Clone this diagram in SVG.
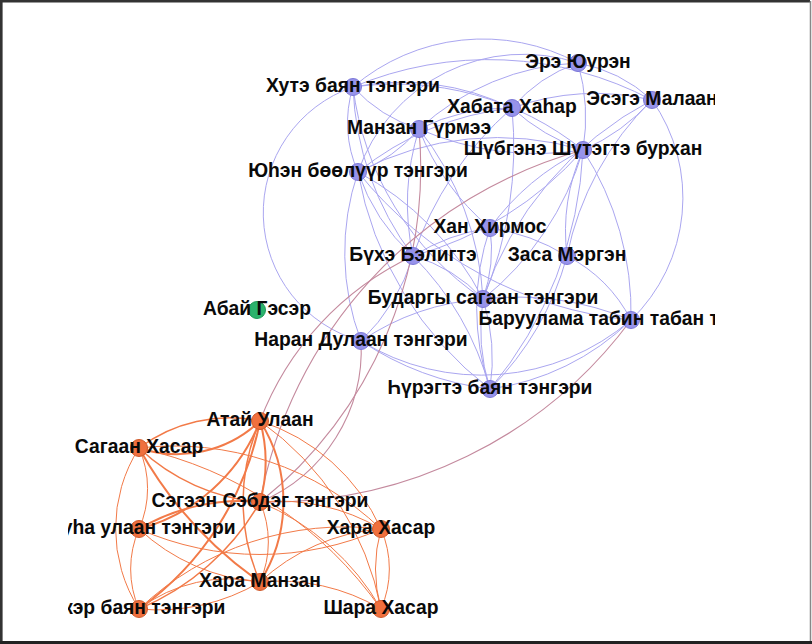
<svg xmlns="http://www.w3.org/2000/svg" width="812" height="644" viewBox="0 0 812 644">
<defs>
<clipPath id="vc"><rect x="68" y="0" width="647" height="644"/></clipPath>
<style>
.e path{fill:none}
.b path{stroke:#aaa6f0;stroke-width:1}
.m path{stroke:#c48a9e;stroke-width:1.1}
.o path{stroke:#f27a48;stroke-width:1}
.o path.t{stroke-width:2}
.o path.h{stroke-width:1.5}
.nb circle{fill:#9793ea;stroke:#7c78d8;stroke-width:1}
.no circle{fill:#f0703e;stroke:#cf5a2c;stroke-width:1}
.ng circle{fill:#2bb36c;stroke:#1f9a58;stroke-width:1}
text{font-family:"Liberation Sans",Arial,sans-serif;font-weight:bold;font-size:19.3px;fill:#0a0a0a;text-anchor:middle}
</style>
</defs>
<rect x="0" y="0" width="812" height="644" fill="#fff"/>
<g id="connectors" class="e">
<g class="b">
<path d="M353 87 A200 200 0 0 1 578 63"/>
<path d="M358 172 A175 175 0 0 1 578 63"/>
<path d="M353 87 A250 250 0 0 1 512 108"/>
<path d="M353 87 A150 150 0 0 0 419 129"/>
<path d="M353 87 A120 120 0 0 0 358 172"/>
<path d="M353 87 A300 300 0 0 0 413 256"/>
<path d="M353 87 A300 300 0 0 1 583 150"/>
<path d="M353 87 A350 350 0 0 1 652 100"/>
<path d="M353 87 A133 133 0 0 0 361 341"/>
<path d="M353 87 A300 300 0 0 0 483 299"/>
<path d="M419 129 A250 250 0 0 1 578 63"/>
<path d="M419 129 A200 200 0 0 1 512 108"/>
<path d="M419 129 A300 300 0 0 0 583 150"/>
<path d="M419 129 A150 150 0 0 1 358 172"/>
<path d="M419 129 A250 250 0 0 0 413 256"/>
<path d="M419 129 A300 300 0 0 1 483 299"/>
<path d="M419 129 A250 250 0 0 0 490 228"/>
<path d="M512 108 A150 150 0 0 1 578 63"/>
<path d="M512 108 A250 250 0 0 1 652 100"/>
<path d="M512 108 A200 200 0 0 0 583 150"/>
<path d="M512 108 A300 300 0 0 0 358 172"/>
<path d="M512 108 A400 400 0 0 1 483 299"/>
<path d="M512 108 A350 350 0 0 0 413 256"/>
<path d="M578 63 A150 150 0 0 1 652 100"/>
<path d="M578 63 A200 200 0 0 1 583 150"/>
<path d="M652 100 A200 200 0 0 1 583 150"/>
<path d="M652 100 A350 350 0 0 0 483 299"/>
<path d="M652 100 A300 300 0 0 0 567 256"/>
<path d="M652 100 A170 170 0 0 1 631 320"/>
<path d="M583 150 A250 250 0 0 0 490 228"/>
<path d="M583 150 A350 350 0 0 1 413 256"/>
<path d="M583 150 A300 300 0 0 1 483 299"/>
<path d="M583 150 A200 200 0 0 0 567 256"/>
<path d="M583 150 A400 400 0 0 1 490 389"/>
<path d="M583 150 A300 300 0 0 0 358 172"/>
<path d="M583 150 A300 300 0 0 1 631 320"/>
<path d="M358 172 A200 200 0 0 0 413 256"/>
<path d="M358 172 A250 250 0 0 0 361 341"/>
<path d="M358 172 A300 300 0 0 1 483 299"/>
<path d="M358 172 A350 350 0 0 0 490 389"/>
<path d="M358 172 A400 400 0 0 0 631 320"/>
<path d="M490 228 A200 200 0 0 0 413 256"/>
<path d="M490 228 A150 150 0 0 1 483 299"/>
<path d="M490 228 A250 250 0 0 0 490 389"/>
<path d="M490 228 A200 200 0 0 1 567 256"/>
<path d="M413 256 A150 150 0 0 1 483 299"/>
<path d="M413 256 A200 200 0 0 1 361 341"/>
<path d="M413 256 A300 300 0 0 1 490 389"/>
<path d="M483 299 A200 200 0 0 1 490 389"/>
<path d="M483 299 A200 200 0 0 0 490 389"/>
<path d="M483 299 A300 300 0 0 1 631 320"/>
<path d="M483 299 A250 250 0 0 0 361 341"/>
<path d="M361 341 A300 300 0 0 0 490 389"/>
<path d="M361 341 A230 230 0 0 0 631 320"/>
<path d="M490 389 A250 250 0 0 0 631 320"/>
<path d="M567 256 A150 150 0 0 1 631 320"/>
<path d="M567 256 A300 300 0 0 1 490 389"/>
</g>
<g class="m">
<path d="M260 502 A450 450 0 0 1 583 150"/>
<path d="M260 502 A430 430 0 0 0 419 129"/>
<path d="M260 502 A450 450 0 0 0 631 320"/>
<path d="M361 341 A165 165 0 0 1 260 502"/>
<path d="M260 421 A300 300 0 0 1 413 256"/>
</g>
<g class="o">
<path class="t" d="M260 421 A120 120 0 0 1 139 448"/>
<path class="h" d="M260 421 A150 150 0 0 0 139 448"/>
<path class="t" d="M260 421 A150 150 0 0 1 260 502"/>
<path class="t" d="M260 421 A150 150 0 0 1 260 582"/>
<path class="h" d="M260 421 A200 200 0 0 0 260 582"/>
<path class="t" d="M260 421 A180 180 0 0 1 139 529"/>
<path class="t" d="M260 421 A300 300 0 0 1 139 609"/>
<path d="M260 421 A200 200 0 0 1 381 529"/>
<path d="M260 421 A300 300 0 0 1 381 609"/>
<path class="h" d="M139 448 A200 200 0 0 0 260 502"/>
<path d="M139 448 A300 300 0 0 1 381 529"/>
<path class="t" d="M139 448 A400 400 0 0 0 260 582"/>
<path d="M139 448 A100 100 0 0 1 139 529"/>
<path d="M139 448 A150 150 0 0 0 139 609"/>
<path d="M139 448 A400 400 0 0 1 381 609"/>
<path d="M260 502 A200 200 0 0 1 381 529"/>
<path d="M260 502 A100 100 0 0 1 260 582"/>
<path class="t" d="M260 502 A200 200 0 0 0 139 529"/>
<path class="h" d="M260 502 A250 250 0 0 1 139 609"/>
<path d="M260 502 A250 250 0 0 1 381 609"/>
<path d="M139 529 A100 100 0 0 0 139 609"/>
<path d="M139 529 A200 200 0 0 0 260 582"/>
<path d="M139 529 A300 300 0 0 0 381 529"/>
<path d="M260 582 A150 150 0 0 0 139 609"/>
<path d="M260 582 A200 200 0 0 1 139 609"/>
<path d="M260 582 A200 200 0 0 1 381 529"/>
<path d="M260 582 A200 200 0 0 1 381 609"/>
<path d="M381 529 A100 100 0 0 1 381 609"/>
<path d="M381 529 A150 150 0 0 0 381 609"/>
<path d="M139 609 A300 300 0 0 1 381 529"/>
</g>
</g>
<g id="nodes" clip-path="url(#vc)">
<g id="n-ere" class="nb"><circle cx="578" cy="63" r="8.5"/><text x="578" y="68">Эрэ Юурэн</text></g>
<g id="n-hute" class="nb"><circle cx="353" cy="87" r="8.5"/><text x="353" y="92">Хутэ баян тэнгэри</text></g>
<g id="n-habata" class="nb"><circle cx="512" cy="108" r="8.5"/><text x="512" y="113">Хабата Хаhар</text></g>
<g id="n-esege" class="nb"><circle cx="652" cy="100" r="8.5"/><text x="652" y="105">Эсэгэ Малаан</text></g>
<g id="n-manzan" class="nb"><circle cx="419" cy="129" r="8.5"/><text x="419" y="134">Манзан Гүрмээ</text></g>
<g id="n-shute" class="nb"><circle cx="583" cy="150" r="8.5"/><text x="583" y="155">Шүбгэнэ Шүтэгтэ бурхан</text></g>
<g id="n-yuhen" class="nb"><circle cx="358" cy="172" r="8.5"/><text x="358" y="177">Юhэн бөөлүүр тэнгэри</text></g>
<g id="n-han" class="nb"><circle cx="490" cy="228" r="8.5"/><text x="490" y="233">Хан Хирмос</text></g>
<g id="n-buhe" class="nb"><circle cx="413" cy="256" r="8.5"/><text x="413" y="261">Бүхэ Бэлигтэ</text></g>
<g id="n-zasa" class="nb"><circle cx="567" cy="256" r="8.5"/><text x="567" y="261">Заса Мэргэн</text></g>
<g id="n-budargy" class="nb"><circle cx="483" cy="299" r="8.5"/><text x="483" y="304">Бударгы сагаан тэнгэри</text></g>
<g id="n-baruulama" class="nb"><circle cx="631" cy="320" r="8.5"/><text x="631" y="325">Баруулама табин табан тэнгэри</text></g>
<g id="n-naran" class="nb"><circle cx="361" cy="341" r="8.5"/><text x="361" y="346">Наран Дулаан тэнгэри</text></g>
<g id="n-hurgete" class="nb"><circle cx="490" cy="389" r="8.5"/><text x="490" y="394">Һүрэгтэ баян тэнгэри</text></g>
<g id="n-abai" class="ng"><circle cx="257" cy="310" r="8.5"/><text x="257" y="315">Абай Гэсэр</text></g>
<g id="n-atai" class="no"><circle cx="260" cy="421" r="8.5"/><text x="260" y="426">Атай Улаан</text></g>
<g id="n-sagaan" class="no"><circle cx="139" cy="448" r="8.5"/><text x="139" y="453">Сагаан Хасар</text></g>
<g id="n-segeen" class="no"><circle cx="260" cy="502" r="8.5"/><text x="260" y="507">Сэгээн Сэбдэг тэнгэри</text></g>
<g id="n-shuha" class="no"><circle cx="139" cy="529" r="8.5"/><text x="139" y="534">Шуhа улаан тэнгэри</text></g>
<g id="n-harahasar" class="no"><circle cx="381" cy="529" r="8.5"/><text x="381" y="534">Хара Хасар</text></g>
<g id="n-haramanzan" class="no"><circle cx="260" cy="582" r="8.5"/><text x="260" y="587">Хара Манзан</text></g>
<g id="n-uker" class="no"><circle cx="139" cy="609" r="8.5"/><text x="139" y="614">Үкэр баян тэнгэри</text></g>
<g id="n-sharahasar" class="no"><circle cx="381" cy="609" r="8.5"/><text x="381" y="614">Шара Хасар</text></g>
</g>
<path d="M1.3 642 V1.3 H810" fill="none" stroke="#333" stroke-width="2.6"/>
<path d="M0 642.5 H812" fill="none" stroke="#222" stroke-width="3.2"/>
<path d="M810.5 1 V641" fill="none" stroke="#888" stroke-width="1.5"/>
</svg>
